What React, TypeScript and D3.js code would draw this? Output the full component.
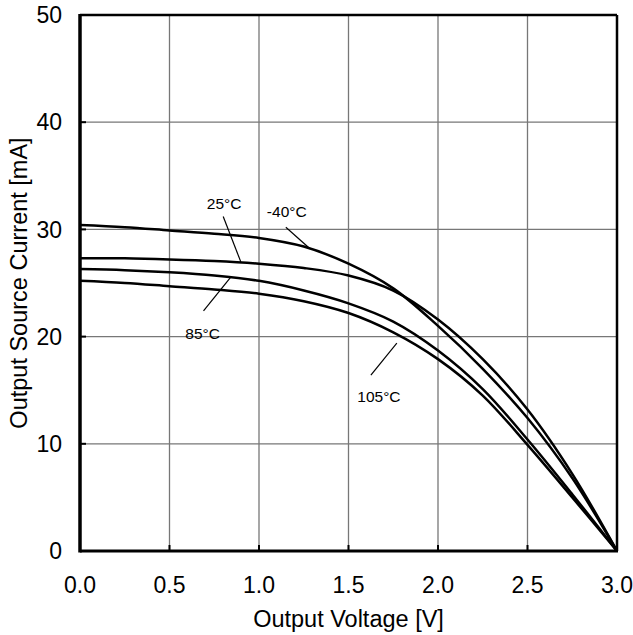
import React from "react";
import * as d3 from "d3";

const voltage = [0, 0.25, 0.5, 0.75, 1.0, 1.25, 1.5, 1.75, 2.0, 2.25, 2.5, 2.75, 3.0];
const currentM40 = [30.4, 30.2, 29.9, 29.6, 29.2, 28.4, 26.8, 24.5, 21.0, 17.0, 12.4, 6.8, 0];
const current25 = [27.3, 27.3, 27.2, 27.05, 26.8, 26.4, 25.7, 24.3, 21.6, 17.9, 13.2, 7.2, 0];
const current85 = [26.3, 26.2, 26.0, 25.7, 25.2, 24.3, 23.1, 21.4, 18.7, 15.1, 10.4, 5.3, 0];
const current105 = [25.2, 25.0, 24.7, 24.4, 24.0, 23.3, 22.2, 20.4, 17.9, 14.5, 9.9, 5.0, 0];

const xTicks = [0, 0.5, 1.0, 1.5, 2.0, 2.5, 3.0];
const yTicks = [0, 10, 20, 30, 40, 50];

const seriesNames = ["-40°C", "25°C", "85°C", "105°C"];
const seriesValues = [currentM40, current25, current85, current105];

// annotation: label text position, leader from (v1,i1) to (v2,i2) in data units
const annotations = [
  { name: "25°C", tx: 0.805, ty: 32.4, from: [0.8, 31.2], to: [0.9, 26.9] },
  { name: "-40°C", tx: 1.155, ty: 31.65, from: [1.15, 30.2], to: [1.285, 28.2] },
  { name: "85°C", tx: 0.685, ty: 20.3, from: [0.69, 22.4], to: [0.84, 25.5] },
  { name: "105°C", tx: 1.67, ty: 14.4, from: [1.625, 16.4], to: [1.77, 19.4] },
];

export default function App() {
  const W = 633;
  const H = 635;
  const left = 80;
  const right = 617;
  const top = 15;
  const bottom = 551;

  const x = d3.scaleLinear().domain([0, 3]).range([left, right]);
  const y = d3.scaleLinear().domain([0, 50]).range([bottom, top]);

  const line = d3
    .line<number>()
    .x((_, i) => x(voltage[i]))
    .y((d) => y(d))
    .curve(d3.curveCatmullRom.alpha(0.5));

  const font = "Arial, 'Liberation Sans', sans-serif";

  return (
    <svg
      width={W}
      height={H}
      style={{ position: "absolute", left: 0, top: 0, background: "#fff" }}
      fontFamily={font}
    >
      <rect x={0} y={0} width={W} height={H} fill="#fff" />
      {/* grid */}
      {xTicks.slice(1, -1).map((t) => (
        <line key={"gx" + t} x1={x(t)} x2={x(t)} y1={top} y2={bottom} stroke="#777" strokeWidth={1.3} />
      ))}
      {yTicks.slice(1, -1).map((t) => (
        <line key={"gy" + t} x1={left} x2={right} y1={y(t)} y2={y(t)} stroke="#777" strokeWidth={1.3} />
      ))}
      {/* inward ticks */}
      {xTicks.slice(1, -1).map((t) => (
        <line key={"tx" + t} x1={x(t)} x2={x(t)} y1={bottom} y2={bottom - 6} stroke="#000" strokeWidth={2} />
      ))}
      {yTicks.slice(1, -1).map((t) => (
        <line key={"ty" + t} x1={left} x2={left + 6} y1={y(t)} y2={y(t)} stroke="#000" strokeWidth={2} />
      ))}
      {/* curves */}
      {seriesValues.map((vals, k) => (
        <path key={seriesNames[k]} d={line(vals) || ""} fill="none" stroke="#000" strokeWidth={2.5} />
      ))}
      {/* frame */}
      <line x1={left} x2={right} y1={top} y2={top} stroke="#000" strokeWidth={2.5} />
      <line x1={right} x2={right} y1={top} y2={bottom} stroke="#000" strokeWidth={2.5} />
      <line x1={left} x2={left} y1={top - 1} y2={bottom + 1.5} stroke="#000" strokeWidth={3.5} />
      <line x1={left} x2={right + 1} y1={bottom} y2={bottom} stroke="#000" strokeWidth={3} />
      {/* annotations */}
      {annotations.map((a) => (
        <g key={a.name}>
          <line
            x1={x(a.from[0])}
            y1={y(a.from[1])}
            x2={x(a.to[0])}
            y2={y(a.to[1])}
            stroke="#000"
            strokeWidth={1.2}
          />
          <text x={x(a.tx)} y={y(a.ty) + 5.5} fontSize={15.5} textAnchor="middle" fill="#000">
            {a.name}
          </text>
        </g>
      ))}
      {/* tick labels */}
      {xTicks.map((t) => (
        <text key={"lx" + t} x={x(t)} y={593} fontSize={23} textAnchor="middle" fill="#000">
          {t.toFixed(1)}
        </text>
      ))}
      {yTicks.map((t) => (
        <text key={"ly" + t} x={62} y={y(t) + 8.2} fontSize={23} textAnchor="end" fill="#000">
          {t}
        </text>
      ))}
      <text x={(left + right) / 2} y={627} fontSize={23.5} textAnchor="middle" fill="#000">
        Output Voltage [V]
      </text>
      <text
        transform={`translate(27, ${(top + bottom) / 2}) rotate(-90)`}
        fontSize={23.5}
        textAnchor="middle"
        fill="#000"
      >
        Output Source Current [mA]
      </text>
    </svg>
  );
}
